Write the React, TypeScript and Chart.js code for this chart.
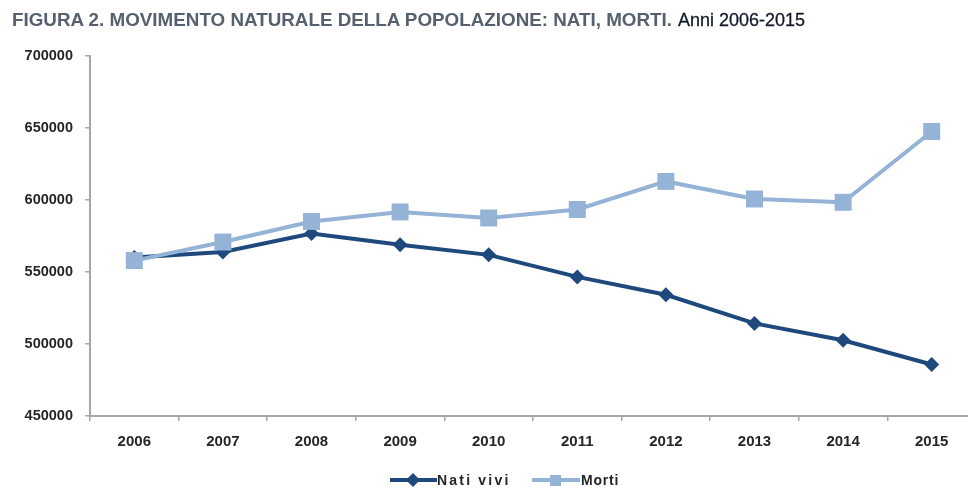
import React, { useEffect, useLayoutEffect, useRef } from "react";
import { Chart, registerables } from "chart.js";

Chart.register(...registerables);

const categories = ["2006", "2007", "2008", "2009", "2010", "2011", "2012", "2013", "2014", "2015"];
const natiVivi = [560000, 563900, 576700, 568900, 561900, 546600, 534200, 514300, 502600, 485800];
const morti = [557900, 570800, 585100, 591700, 587500, 593400, 612900, 600700, 598400, 647600];
const yTicks = [450000, 500000, 550000, 600000, 650000, 700000];
const seriesNames = ["Nati vivi", "Morti"];
const titleMain = "FIGURA 2. MOVIMENTO NATURALE DELLA POPOLAZIONE: NATI, MORTI.";
const titleSub = "Anni 2006-2015";

const DARK = "#1F497D";
const LIGHT = "#95B3D7";
const AXIS = "#A6A6A6";
const FONT = "'Liberation Sans', Arial, sans-serif";

function FitText({ text, width, style }: { text: string; width: number; style: React.CSSProperties }) {
  const ref = useRef<HTMLSpanElement | null>(null);
  useLayoutEffect(() => {
    const el = ref.current;
    if (!el) return;
    el.style.transform = "none";
    const w = el.getBoundingClientRect().width;
    if (w > 0) el.style.transform = `scaleX(${width / w})`;
  }, [text, width]);
  return (
    <span
      ref={ref}
      style={{ display: "inline-block", whiteSpace: "nowrap", transformOrigin: "left center", ...style }}
    >
      {text}
    </span>
  );
}

export default function App() {
  const canvasRef = useRef<HTMLCanvasElement | null>(null);

  useEffect(() => {
    if (!canvasRef.current) return;
    const chart = new Chart(canvasRef.current, {
      type: "line",
      data: {
        labels: categories,
        datasets: [
          {
            label: seriesNames[0],
            data: natiVivi,
            borderColor: DARK,
            backgroundColor: DARK,
            borderWidth: 4,
            pointStyle: "rectRot",
            pointRadius: 7.5,
            pointBorderWidth: 0,
            tension: 0,
            order: 1,
          },
          {
            label: seriesNames[1],
            data: morti,
            borderColor: LIGHT,
            backgroundColor: LIGHT,
            borderWidth: 4,
            pointStyle: "rect",
            pointRadius: 12,
            pointBorderWidth: 0,
            tension: 0,
            order: 0,
          },
        ],
      },
      options: {
        responsive: false,
        animation: false,
        layout: { padding: { top: 56, right: 14, bottom: 40, left: 0 } },
        plugins: {
          legend: { display: false },
          title: { display: false },
          tooltip: { enabled: false },
        },
        scales: {
          x: {
            type: "category",
            offset: true,
            grid: {
              offset: true,
              drawOnChartArea: false,
              drawTicks: true,
              tickLength: 5,
              color: AXIS,
              lineWidth: 1.5,
            },
            border: { color: AXIS, width: 2 },
            ticks: {
              color: "#262626",
              font: { family: FONT, size: 15, weight: "bold" },
              padding: 12,
              maxRotation: 0,
            },
            afterFit: (scale: any) => {
              scale.height = 35;
            },
          },
          y: {
            min: 450000,
            max: 700000,
            afterBuildTicks: (scale: any) => {
              scale.ticks = yTicks.map((v) => ({ value: v }));
            },
            grid: {
              drawOnChartArea: false,
              drawTicks: true,
              tickLength: 5,
              color: AXIS,
              lineWidth: 1.5,
            },
            border: { color: AXIS, width: 2 },
            ticks: {
              color: "#262626",
              font: { family: FONT, size: 14.5, weight: "bold" },
              padding: 12,
              callback: (v: any) => String(v),
            },
            afterFit: (scale: any) => {
              scale.width = 90;
            },
          },
        },
      },
    });
    return () => chart.destroy();
  }, []);

  const legendText: React.CSSProperties = {
    position: "absolute",
    top: 471,
    fontFamily: FONT,
    fontWeight: "bold",
    fontSize: 14,
    color: "#262626",
    lineHeight: "18px",
    whiteSpace: "nowrap",
  };

  return (
    <div
      style={{
        position: "fixed",
        left: 0,
        top: 0,
        width: 968,
        height: 491,
        overflow: "hidden",
        background: "#ffffff",
      }}
    >
      <canvas ref={canvasRef} width={990} height={491} style={{ position: "absolute", left: 0, top: 0 }} />
      <div style={{ position: "absolute", left: 12, top: 8, height: 24, fontFamily: FONT, fontSize: 19, lineHeight: "24px" }}>
        <span style={{ position: "absolute", left: 0, top: 0 }}>
          <FitText text={titleMain} width={660} style={{ fontWeight: "bold", color: "#56606F" }} />
        </span>
        <span style={{ position: "absolute", left: 666, top: 0 }}>
          <FitText text={titleSub} width={127} style={{ fontWeight: "normal", color: "#111827", WebkitTextStroke: "0.3px #111827" }} />
        </span>
      </div>
      {/* legend */}
      <div style={{ position: "absolute", left: 390, top: 478, width: 47, height: 4, background: DARK }} />
      <div
        style={{
          position: "absolute",
          left: 408,
          top: 475,
          width: 10,
          height: 10,
          background: DARK,
          transform: "rotate(45deg)",
        }}
      />
      <div style={{ ...legendText, left: 437, letterSpacing: "2.2px" }}>{seriesNames[0]}</div>
      <div style={{ position: "absolute", left: 532, top: 478, width: 48, height: 4, background: LIGHT }} />
      <div style={{ position: "absolute", left: 550, top: 475, width: 11, height: 11, background: LIGHT }} />
      <div style={{ ...legendText, left: 581, letterSpacing: "0.8px" }}>{seriesNames[1]}</div>
    </div>
  );
}
